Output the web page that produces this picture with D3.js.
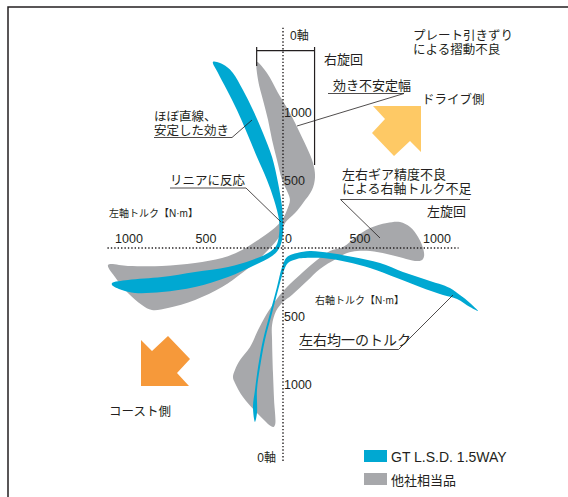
<!DOCTYPE html>
<html>
<head>
<meta charset="utf-8">
<script src="https://cdn.jsdelivr.net/npm/d3@7"></script>
<style>
  body { margin: 0; background: #fff; }
  text { font-family: "Liberation Sans", "Noto Sans CJK JP", sans-serif; fill: #231f20; }
</style>
</head>
<body>
<svg id="chart"></svg>
<script>
// Axis ticks (torque in N·m)
const tickValuesX = [-1000, -500, 0, 500, 1000];
const tickLabelsX = ["1000", "500", "0", "500", "1000"];
const tickValuesY = [1000, 500, -500, -1000];
const tickLabelsY = ["1000", "500", "500", "1000"];

// Band outlines [left/right axis torque, N·m]
// GT L.S.D. 1.5WAY, drive side (upper + left)
const blueLeft = [
    [-455, 1368], [-409, 1360], [-364, 1331], [-325, 1287], [-260, 1162], [-195, 1015],
    [-130, 846], [-71, 669], [-32, 478], [-6, 301], [0, 191], [-6, 59], [-32, -15],
    [-71, -59], [-182, -125], [-357, -213], [-571, -287], [-786, -324], [-961, -331],
    [-1046, -309], [-1110, -272], [-1110, -257], [-1007, -235], [-786, -213], [-571, -176],
    [-357, -140], [-201, -88], [-97, -37], [-45, 15], [-26, 96], [-26, 206], [-58, 353],
    [-104, 500], [-169, 669], [-234, 846], [-299, 1015], [-364, 1162], [-422, 1287]
];
// other brand, drive side
const grayLeft = [
    [-169, 1368], [-104, 1287], [-32, 1140], [45, 993], [110, 846], [162, 721], [195, 625],
    [208, 522], [188, 426], [130, 331], [78, 257], [13, 184], [-6, 118], [-39, 59],
    [-97, -15], [-162, -88], [-266, -184], [-396, -287], [-571, -382], [-747, -441],
    [-851, -456], [-916, -419], [-1007, -331], [-1091, -213], [-1136, -125], [-1007, -132],
    [-786, -132], [-571, -110], [-396, -74], [-266, -15], [-162, 59], [-71, 132], [-6, 206],
    [26, 279], [45, 353], [32, 404], [-6, 500], [-39, 647], [-71, 794], [-97, 941],
    [-130, 1088], [-162, 1235]
];
// GT L.S.D. 1.5WAY, coast side (right + lower)
const blueRight = [
    [1266, -463], [1214, -404], [1149, -346], [1084, -294], [935, -235], [779, -176],
    [630, -110], [455, -66], [305, -37], [175, -22], [91, -37], [26, -66], [-6, -140],
    [-39, -287], [-84, -478], [-130, -676], [-162, -875], [-182, -1044], [-195, -1169],
    [-182, -1279], [-169, -1213], [-169, -1044], [-149, -875], [-117, -676], [-71, -478],
    [-32, -309], [0, -184], [32, -110], [91, -81], [130, -74], [260, -74], [416, -103],
    [565, -147], [740, -221], [890, -287], [1039, -346], [1130, -375], [1214, -434]
];
// other brand, coast side
const grayRight = [
    [-65, -1316], [-169, -1213], [-260, -1096], [-312, -993], [-325, -949], [-312, -897],
    [-279, -824], [-214, -728], [-162, -603], [-110, -493], [-45, -382], [26, -287],
    [130, -176], [221, -88], [305, -22], [390, 7], [481, 88], [565, 147], [675, 184],
    [760, 191], [825, 154], [877, 81], [909, 0], [916, -59], [903, -88], [857, -96],
    [779, -74], [675, -44], [565, -22], [481, -22], [416, -37], [344, -81], [240, -154],
    [156, -243], [58, -346], [0, -397], [-45, -463], [-71, -566], [-71, -676],
    [-65, -919], [-58, -1118], [-52, -1301]
];

// Legend
const legendItems = ["GT L.S.D. 1.5WAY", "他社相当品"];

const width = 568;
const height = 497;
const blue = "#00a8d2";
const gray = "#a7a8ab";
const ink = "#231f20";

const svg = d3.select("#chart")
    .attr("width", width)
    .attr("height", height);

// Scales: origin of both axes at (283, 248)
const x = d3.scaleLinear().domain([-1000, 1000]).range([129, 437]);
const y = d3.scaleLinear().domain([-1000, 1000]).range([384, 112]);

// frame (top + left edges only)
svg.append("path")
    .attr("d", "M8," + height + "V7H" + width)
    .attr("fill", "none")
    .attr("stroke", ink)
    .attr("stroke-width", 1.5);

const band = d3.line()
    .x(d => x(d[0]))
    .y(d => y(d[1]))
    .curve(d3.curveCatmullRomClosed.alpha(0.5));

// gray under, blue on top
[[grayLeft, gray], [grayRight, gray], [blueLeft, blue], [blueRight, blue]].forEach(([pts, c]) => {
    svg.append("path")
        .attr("d", band(pts))
        .attr("fill", c);
});

// dotted axes
svg.append("line")
    .attr("x1", x(-1140)).attr("x2", x(1140))
    .attr("y1", y(0)).attr("y2", y(0))
    .attr("stroke", ink).attr("stroke-width", 1.4)
    .attr("stroke-dasharray", "1.4,2");

svg.append("line")
    .attr("x1", x(0)).attr("x2", x(0))
    .attr("y1", y(1620)).attr("y2", y(-1575))
    .attr("stroke", ink).attr("stroke-width", 1.4)
    .attr("stroke-dasharray", "1.4,2");

// tick labels
svg.selectAll(".tx")
    .data(tickValuesX)
    .enter()
    .append("text")
    .attr("x", d => d === 0 ? x(0) + 2 : x(d))
    .attr("y", y(0) - 5)
    .attr("text-anchor", d => d === 0 ? "start" : "middle")
    .style("font-size", "12.5px")
    .text((d, i) => tickLabelsX[i]);

svg.selectAll(".ty")
    .data(tickValuesY)
    .enter()
    .append("text")
    .attr("x", x(0) + 1)
    .attr("y", d => y(d) + 4.5)
    .style("font-size", "12.5px")
    .text((d, i) => tickLabelsY[i]);

// bracket showing the unstable width
const bracket = d3.path();
bracket.moveTo(x(-171), y(1338));
bracket.lineTo(x(-171), y(1478));
bracket.moveTo(x(-171), y(1452));
bracket.lineTo(x(205), y(1452));
bracket.moveTo(x(205), y(1478));
bracket.lineTo(x(205), y(610));
svg.append("path")
    .attr("d", bracket.toString())
    .attr("fill", "none")
    .attr("stroke", ink)
    .attr("stroke-width", 1.2);

// arrows (drive side / coast side), same shape turned 180°
const arrowShape = [[0, 0], [0, 46], [-11, 35], [-27, 50], [-49, 27], [-36, 13], [-48, 0]];
svg.append("polygon")
    .attr("points", arrowShape.join(" "))
    .attr("transform", "translate(421,106)")
    .attr("fill", "#fec965");
svg.append("polygon")
    .attr("points", arrowShape.join(" "))
    .attr("transform", "translate(141,386) rotate(180)")
    .attr("fill", "#f6993a");

// plain labels
const labels = [
    { t: "0軸", x: 290, y: 40, s: 12 },
    { t: "右旋回", x: 324, y: 64, s: 13 },
    { t: "プレート引きずり", x: 413, y: 40, s: 12.5 },
    { t: "による摺動不良", x: 413, y: 54, s: 12.5 },
    { t: "ドライブ側", x: 422, y: 104, s: 12.5 },
    { t: "左軸トルク【N·m】", x: 109, y: 217, s: 10 },
    { t: "左旋回", x: 427, y: 216, s: 13 },
    { t: "右軸トルク【N·m】", x: 315, y: 304, s: 10 },
    { t: "コースト側", x: 109, y: 416, s: 12.5 },
    { t: "0軸", x: 276, y: 462, s: 12, a: "end" }
];
svg.selectAll(".lbl")
    .data(labels)
    .enter()
    .append("text")
    .attr("x", d => d.x)
    .attr("y", d => d.y)
    .attr("text-anchor", d => d.a || "start")
    .style("font-size", d => d.s + "px")
    .text(d => d.t);

// callouts: text lines, underline, leader to the band
const callouts = [
    { lines: ["効き不安定幅"], x: 333, y: 90, s: 13, u: [328, 404, 93.5], to: [297, 126] },
    { lines: ["ほぼ直線、", "安定した効き"], x: 154, y: 121, s: 12.5, u: [154, 232, 137.5], to: [252, 120] },
    { lines: ["リニアに反応"], x: 170, y: 184.5, s: 12.5, u: [170, 246, 188], to: [281, 222] },
    { lines: ["左右ギア精度不良", "による右軸トルク不足"], x: 342, y: 178.5, s: 13, u: [340.5, 470, 199.5], to: [380, 238], lead: "start" },
    { lines: ["左右均一のトルク"], x: 299, y: 345, s: 14, u: [299, 398.5, 349.5], to: [453, 295] }
];
callouts.forEach(c => {
    c.lines.forEach((l, i) => {
        svg.append("text")
            .attr("x", c.x)
            .attr("y", c.y + i * 14)
            .style("font-size", c.s + "px")
            .text(l);
    });
    const from = c.lead === "start" ? c.u[0] : c.u[1];
    svg.append("path")
        .attr("d", "M" + c.u[0] + "," + c.u[2] + "H" + c.u[1] + "M" + from + "," + c.u[2] + "L" + c.to[0] + "," + c.to[1])
        .attr("fill", "none")
        .attr("stroke", ink)
        .attr("stroke-width", 0.8);
});

// legend
const legend = svg.selectAll(".leg")
    .data(legendItems)
    .enter()
    .append("g")
    .attr("transform", (d, i) => "translate(364," + (450 + i * 23) + ")");

legend.append("rect")
    .attr("width", 23)
    .attr("height", 12)
    .attr("fill", (d, i) => i === 0 ? blue : gray);

legend.append("text")
    .attr("x", 27)
    .attr("y", 11.5)
    .style("font-size", (d, i) => i === 0 ? "14px" : "13px")
    .text(d => d);
</script>
</body>
</html>
